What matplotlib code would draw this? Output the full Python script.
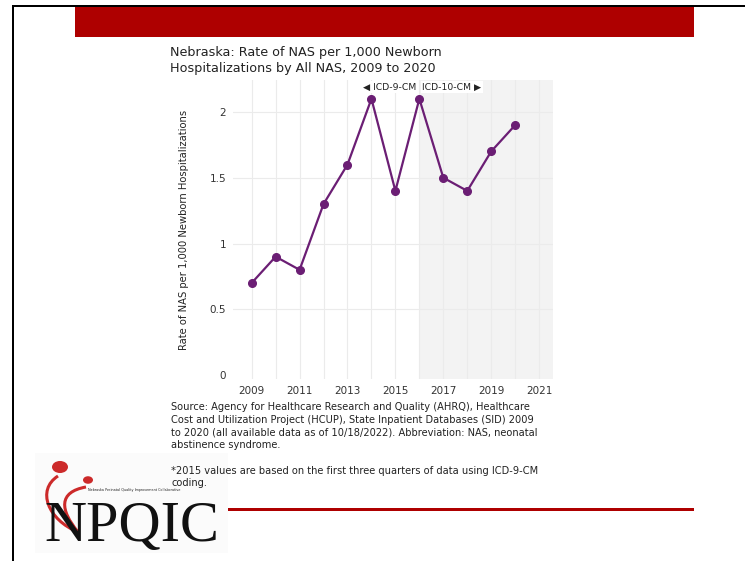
import numpy as np
import matplotlib
matplotlib.use("Agg")
import matplotlib.pyplot as plt
from matplotlib.patches import Rectangle, Circle, PathPatch
from matplotlib.path import Path

plt.rcParams['font.family'] = ['DejaVu Sans']

# data
years = [2009, 2010, 2011, 2012, 2013, 2014, 2015, 2016, 2017, 2018, 2019, 2020]
rate = [0.7, 0.9, 0.8, 1.3, 1.6, 2.1, 1.4, 2.1, 1.5, 1.4, 1.7, 1.9]
xticks = [2009, 2011, 2013, 2015, 2017, 2019, 2021]
yticks = [0, 0.5, 1, 1.5, 2]
ytick_labels = ['0', '0.5', '1', '1.5', '2']
icd10_start = 2016

title_lines = ["Nebraska: Rate of NAS per 1,000 Newborn",
               "Hospitalizations by All NAS, 2009 to 2020"]
source_lines = [
    "Source: Agency for Healthcare Research and Quality (AHRQ), Healthcare",
    "Cost and Utilization Project (HCUP), State Inpatient Databases (SID) 2009",
    "to 2020 (all available data as of 10/18/2022). Abbreviation: NAS, neonatal",
    "abstinence syndrome.",
    "",
    "*2015 values are based on the first three quarters of data using ICD-9-CM",
    "coding.",
]

W, H = 745, 561
purple = '#6b1e74'
red = '#ae0000'


def fx(px):
    return px / W


def fy(py):
    return 1 - py / H


fig = plt.figure(figsize=(W / 100, H / 100), dpi=100)

# slide frame and banners
fig.add_artist(Rectangle((fx(12), fy(7)), fx(745 - 12), 2 / H, color='black', lw=0))
fig.add_artist(Rectangle((fx(12), 0), 2 / W, fy(5), color='black', lw=0))
fig.add_artist(Rectangle((fx(75), fy(37)), fx(694 - 75), 30 / H, color=red, lw=0))
fig.add_artist(Rectangle((fx(228), fy(511)), fx(694 - 228), 3 / H, color=red, lw=0))

# title
fig.text(fx(170), fy(56), title_lines[0], fontsize=9.2, color='#222222', va='baseline')
fig.text(fx(170), fy(72), title_lines[1], fontsize=9.2, color='#222222', va='baseline')

# chart
ax = fig.add_axes([fx(233), fy(379), fx(320), 299 / H])
ax.set_xlim(2008.22, 2021.58)
ax.set_ylim(-0.03, 2.243)
ax.axvspan(icd10_start, 2021.58, color='#f3f3f3', lw=0, zorder=0)
for yr in range(2009, 2022):
    ax.axvline(yr, color='#ebebeb', lw=0.8, zorder=1)
for v in yticks[1:]:
    ax.axhline(v, color='#ebebeb', lw=0.8, zorder=1)
ax.plot(years, rate, color=purple, lw=1.6, marker='o', ms=5.5, zorder=3)

ax.set_xticks(xticks)
ax.set_xticklabels([str(t) for t in xticks])
ax.set_yticks(yticks)
ax.set_yticklabels(ytick_labels)
ax.tick_params(length=0, labelsize=7.5, colors='#333333', pad=5)
for s in ax.spines.values():
    s.set_visible(False)
ax.set_ylabel("Rate of NAS per 1,000 Newborn Hospitalizations", fontsize=7.2,
              color='#222222', labelpad=15)

ax.text(icd10_start - 0.12, 2.19, "\u25c0 ICD-9-CM", ha='right', va='center', fontsize=6.7,
        color='#222222', zorder=4,
        bbox=dict(facecolor='white', edgecolor='none', pad=1))
ax.text(icd10_start + 0.12, 2.19, "ICD-10-CM \u25b6", ha='left', va='center', fontsize=6.7,
        color='#222222', zorder=4,
        bbox=dict(facecolor='white', edgecolor='none', pad=1))

# source notes
for i, line in enumerate(source_lines):
    fig.text(fx(171), fy(407 + i * 12.7), line, fontsize=7.1, color='#222222', va='center')

# logo
fig.add_artist(Rectangle((fx(35), fy(553)), fx(228 - 35), 100 / H,
                         color='#fbfbfb', lw=0, zorder=0))
fig.add_artist(Circle((fx(60), fy(467)), 8 / W, color='#cc2a2a', lw=0))
fig.add_artist(Circle((fx(88), fy(480)), 5 / W, color='#cc2a2a', lw=0))
heart = Path([(fx(58), fy(476)), (fx(36), fy(490)), (fx(48), fy(520)), (fx(78), fy(532)),
              (fx(60), fy(510)), (fx(58), fy(492)), (fx(86), fy(487))],
             [Path.MOVETO, Path.CURVE4, Path.CURVE4, Path.CURVE4,
              Path.CURVE4, Path.CURVE4, Path.CURVE4])
fig.add_artist(PathPatch(heart, fill=False, edgecolor='#cc2a2a', lw=2.2))
fig.text(fx(88), fy(490), "Nebraska Perinatal Quality Improvement Collaborative",
         fontsize=2.4, color='#222222', va='center')
fig.text(fx(44), fy(541), "NPQIC", fontsize=42, family='Liberation Serif',
         color='#111111', va='baseline')

fig.savefig('out.png', dpi=100)
